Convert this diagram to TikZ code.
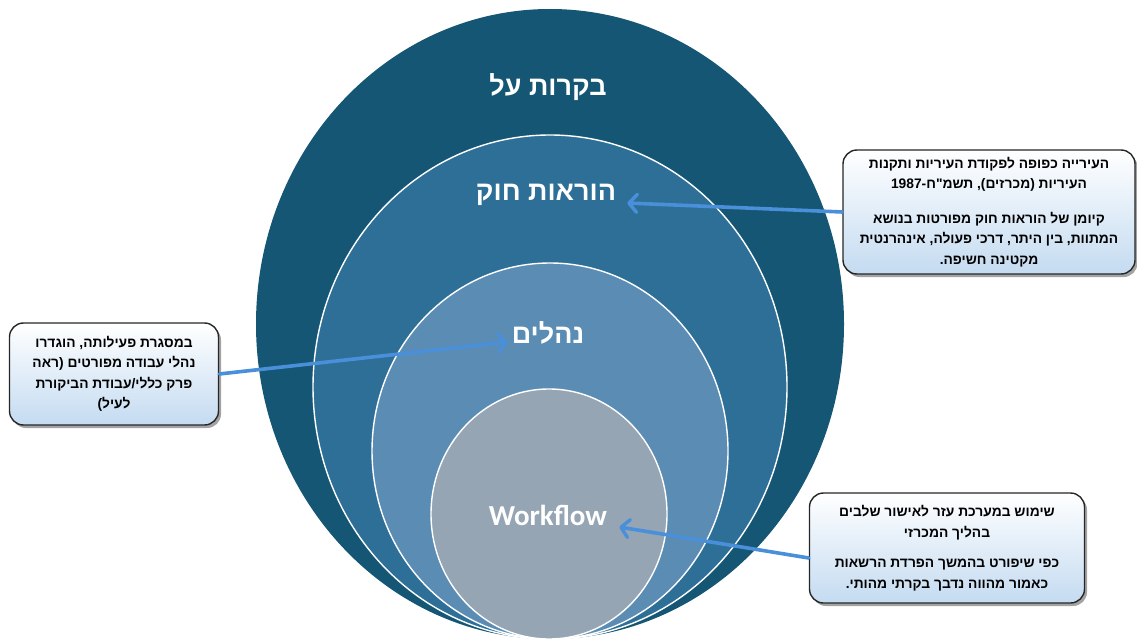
\documentclass[tikz,border=0pt]{standalone}
\usepackage{fontspec}
\setmainfont{Liberation Sans}
\newfontfamily\hebfont[Script=Hebrew]{Liberation Sans}
\newfontfamily\wffont{Carlito}
\TeXXeTstate=1
\usepackage{xcolor}
\usepackage{tikz}
\usetikzlibrary{arrows.meta, shadows, shapes.geometric}

\newcommand{\heb}[1]{{\hebfont\bfseries\beginR #1\endR}}

\definecolor{ringA}{RGB}{20,86,115}
\definecolor{ringB}{RGB}{46,111,152}
\definecolor{ringC}{RGB}{91,141,180}
\definecolor{ringD}{RGB}{150,165,180}
\definecolor{pointer}{RGB}{74,143,217}
\definecolor{boxbottom}{RGB}{196,219,241}

\tikzset{
	ring/.style={ellipse, inner sep=0pt, draw=white, line width=1.4pt},
	ringlabel/.style={text=white, font=\fontsize{27}{30}\selectfont, inner sep=0pt},
	infobox/.style={rectangle, rounded corners=14pt, draw=black!85, line width=1.4pt,
		top color=white, bottom color=boxbottom,
		drop shadow={shadow xshift=2.5pt, shadow yshift=-3pt, fill=black!60, opacity=0.6},
		align=center, inner sep=4pt, font=\fontsize{13.8}{20.5}\selectfont},
	pointerline/.style={draw=pointer, line width=3.6pt, line cap=round,
		-{Straight Barb[length=8pt, width=18pt, line width=3.4pt, round]}},
}

\begin{document}
\begin{tikzpicture}[x=1pt, y=-1pt]
		\useasboundingbox (0,0) rectangle (1137,639);
		% nested rings
		\node[ring, fill=ringA, draw=none, minimum width=588pt, minimum height=630pt] (outer) at (550,324) {};
		\node[ring, fill=ringB, minimum width=474pt, minimum height=504pt] (second) at (550,387) {};
		\node[ring, fill=ringC, minimum width=356pt, minimum height=376pt] (third) at (550,451) {};
		\node[ring, fill=ringD, minimum width=236pt, minimum height=250pt] (inner) at (549,514) {};
		
		\node[ringlabel] (oversight) at (548,87) {\heb{בקרות על}};
		\node[ringlabel] (law) at (546,195) {\heb{הוראות חוק}};
		\node[ringlabel] (proc) at (548,333) {\heb{נהלים}};
		\node[ringlabel, font=\wffont\bfseries\fontsize{29}{32}\selectfont] (wf) at (548,515) {Workflow};
		
		% explanation boxes
		\node[infobox, minimum width=292pt, minimum height=124pt] (lawbox) at (989,212) {
			\heb{העירייה כפופה לפקודת העיריות ותקנות}\\
			\heb{העיריות (מכרזים), תשמ"ח-1987}\\[14pt]
			\heb{קיומן של הוראות חוק מפורטות בנושא}\\
			\heb{המתוות, בין היתר, דרכי פעולה, אינהרנטית}\\
			\heb{מקטינה חשיפה.}};
		\node[infobox, minimum width=209pt, minimum height=102pt] (procbox) at (114,374) {
			\heb{במסגרת פעילותה, הוגדרו}\\
			\heb{נהלי עבודה מפורטים (ראה}\\
			\heb{פרק כללי/עבודת הביקורת}\\
			\heb{לעיל)}};
		\node[infobox, minimum width=275pt, minimum height=110pt] (wfbox) at (947,548) {
			\heb{שימוש במערכת עזר לאישור שלבים}\\
			\heb{בהליך המכרזי}\\[10pt]
			\heb{כפי שיפורט בהמשך הפרדת הרשאות}\\
			\heb{כאמור מהווה נדבך בקרתי מהותי.}};
		
		\draw[pointerline] (lawbox.west) -- ([xshift=11pt, yshift=-8pt]law.east);
		\draw[pointerline] (procbox.east) -- ([xshift=-4pt, yshift=-9pt]proc.west);
		\draw[pointerline] ([yshift=-10pt]wfbox.west) -- ([xshift=12pt, yshift=-12pt]wf.east);
\end{tikzpicture}
\end{document}
